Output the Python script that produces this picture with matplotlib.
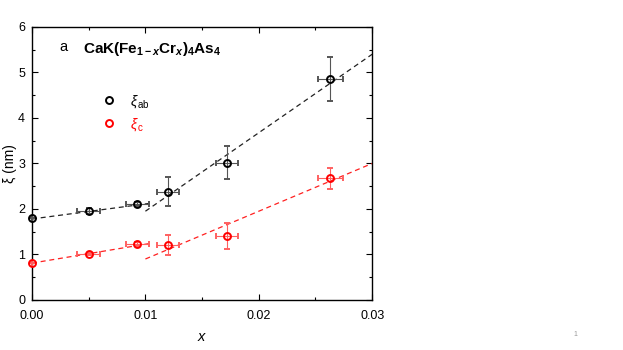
import numpy as np
import matplotlib
matplotlib.use("Agg")
import matplotlib.pyplot as plt
from matplotlib.lines import Line2D
from matplotlib.ticker import MultipleLocator

plt.rcParams['font.family'] = ['Liberation Sans', 'DejaVu Sans']
plt.rcParams['mathtext.fontset'] = 'custom'
plt.rcParams['mathtext.rm'] = 'Liberation Sans'
plt.rcParams['mathtext.it'] = 'Liberation Sans:italic'
plt.rcParams['mathtext.bf'] = 'Liberation Sans:bold'
plt.rcParams['mathtext.bfit'] = 'Liberation Sans:italic:bold'

# Cr concentration and correlation lengths
x = [0.0, 0.005, 0.0093, 0.0120, 0.0172, 0.0263]
xerr = [0.0, 0.001, 0.001, 0.001, 0.001, 0.0011]
xi_ab = [1.80, 1.95, 2.11, 2.38, 3.02, 4.86]
xi_ab_err = [0.0, 0.07, 0.04, 0.32, 0.37, 0.48]
xi_c = [0.82, 1.01, 1.23, 1.21, 1.41, 2.67]
xi_c_err = [0.0, 0.03, 0.04, 0.22, 0.28, 0.23]

# dashed guide lines (end points)
fit_ab_low_x = [0.0, 0.0106]
fit_ab_low_y = [1.78, 2.13]
fit_ab_high_x = [0.010, 0.030]
fit_ab_high_y = [1.95, 5.40]
fit_c_low_x = [0.0, 0.0106]
fit_c_low_y = [0.81, 1.25]
fit_c_high_x = [0.010, 0.030]
fit_c_high_y = [0.90, 3.00]

fig = plt.figure(figsize=(6.23, 3.5), dpi=100)
ax = fig.add_axes([0.0514, 0.143, 0.546, 0.78])

ax.plot(fit_ab_low_x, fit_ab_low_y, '--', color='#222222', lw=0.9, dashes=(4, 3))
ax.plot(fit_ab_high_x, fit_ab_high_y, '--', color='#222222', lw=0.9, dashes=(4, 3))
ax.plot(fit_c_low_x, fit_c_low_y, '--', color='#ff2020', lw=0.9, dashes=(4, 3))
ax.plot(fit_c_high_x, fit_c_high_y, '--', color='#ff2020', lw=0.9, dashes=(4, 3))

ax.errorbar(x, xi_ab, xerr=xerr, yerr=xi_ab_err, fmt='o', mfc='none', mec='black',
            mew=1.4, ms=5, ecolor='#555555', elinewidth=0.8, capsize=2.5, capthick=0.8,
            clip_on=False, zorder=3)
ax.errorbar(x, xi_c, xerr=xerr, yerr=xi_c_err, fmt='o', mfc='none', mec='red',
            mew=1.4, ms=5, ecolor='#ff6060', elinewidth=0.8, capsize=2.5, capthick=0.8,
            clip_on=False, zorder=3)

ax.set_xlim(0, 0.03)
ax.set_ylim(0, 6)
ax.xaxis.set_major_locator(MultipleLocator(0.01))
ax.xaxis.set_minor_locator(MultipleLocator(0.005))
ax.yaxis.set_major_locator(MultipleLocator(1))
ax.yaxis.set_minor_locator(MultipleLocator(0.5))
ax.xaxis.set_major_formatter(matplotlib.ticker.FormatStrFormatter('%.2f'))
ax.tick_params(which='both', direction='in', top=True, right=True, labelsize=9)
ax.tick_params(which='major', length=4, width=0.8)
ax.tick_params(which='minor', length=2.5, width=0.8)
ax.tick_params(axis='x', which='major', pad=7)
ax.tick_params(axis='y', which='major', pad=5)
for s in ax.spines.values():
    s.set_linewidth(1.0)

ax.set_xlabel('$x$', fontsize=10.5, labelpad=6)
ax.set_ylabel('ξ (nm)', fontsize=10, labelpad=1)

ax.text(0.08, 0.925, 'a', transform=ax.transAxes, fontsize=10.5, va='center')
ax.text(0.15, 0.92,
        r'$\mathbf{CaK(Fe}_{\mathbf{1-}\mathbfit{x}}\mathbf{Cr}_{\mathbfit{x}}\mathbf{)}_{\mathbf{4}}\mathbf{As}_{\mathbf{4}}$',
        transform=ax.transAxes, fontsize=11, va='center')

handles = [Line2D([], [], ls='none', marker='o', mfc='none', mec='black', mew=1.4, ms=5),
           Line2D([], [], ls='none', marker='o', mfc='none', mec='red', mew=1.4, ms=5)]
ax.legend(handles, [r'$\xi_{\,\mathrm{ab}}$', r'$\xi_{\,\mathrm{c}}$'],
          labelcolor=['black', 'red'], frameon=False, fontsize=10,
          loc='upper left', bbox_to_anchor=(0.15, 0.805), handletextpad=0.5,
          labelspacing=0.45)

fig.text(0.92, 0.04, '1', fontsize=5, color='#999999')

fig.savefig('out.png', dpi=100)
